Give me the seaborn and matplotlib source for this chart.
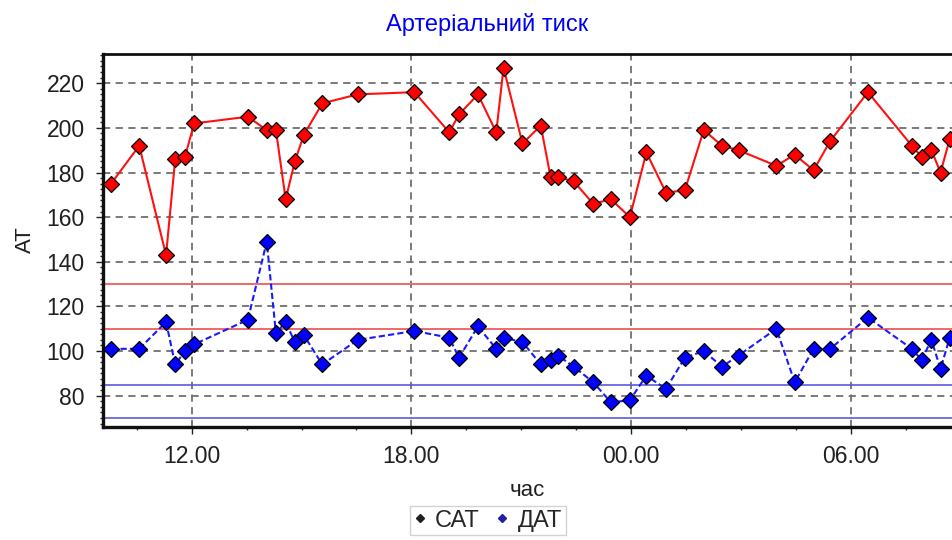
import matplotlib
matplotlib.use("Agg")
import matplotlib.pyplot as plt
from matplotlib.lines import Line2D
from matplotlib.ticker import MultipleLocator, FuncFormatter
import pandas as pd
import seaborn as sns

# measurement times (day rolls over after midnight)
times = ["09:48", "10:34", "11:18", "11:33", "11:49", "12:04", "13:32", "14:03",
         "14:18", "14:34", "14:49", "15:04", "15:34", "16:32", "18:05", "19:02",
         "19:18", "19:49", "20:19", "20:31", "21:02", "21:32", "21:48", "22:00",
         "22:26", "22:58", "23:27", "23:58", "00:25", "00:57", "01:28", "01:59",
         "02:29", "02:56", "03:58", "04:28", "04:59", "05:26", "06:28", "07:40",
         "07:56", "08:12", "08:27", "08:42"]

# systolic pressure (САТ)
sat = [175, 192, 143, 186, 187, 202, 205, 199, 199, 168, 185, 197, 211, 215,
       216, 198, 206, 215, 198, 227, 193, 201, 178, 178, 176, 166, 168, 160,
       189, 171, 172, 199, 192, 190, 183, 188, 181, 194, 216, 192, 187, 190,
       180, 195]

# diastolic pressure (ДАТ)
dat = [101, 101, 113, 94, 100, 103, 114, 149, 108, 113, 104, 107, 94, 105,
       109, 106, 97, 111, 101, 106, 104, 94, 96, 98, 93, 86, 77, 78,
       89, 83, 97, 100, 93, 98, 110, 86, 101, 101, 115, 101, 96, 105,
       92, 106]

# reference levels
sat_limits = [130, 110]
dat_limits = [85, 70]


def to_hours(labels):
    hours = []
    day = 0
    prev = -1
    for t in labels:
        h, m = t.split(":")
        v = int(h) + int(m) / 60
        if v < prev:
            day += 24
        prev = v
        hours.append(v + day)
    return hours


hours = to_hours(times)
df = pd.DataFrame({"час": hours, "САТ": sat, "ДАТ": dat})

sns.set_style("white")
plt.rcParams["font.family"] = ["Liberation Sans", "DejaVu Sans"]

fig = plt.figure(figsize=(9.52, 5.4), dpi=100)
ax = fig.add_axes([102.7 / 952, 113.3 / 540, (979 - 102.7) / 952, (426.7 - 54) / 540])

ax.grid(True, which="major", color="#707070", linestyle=(0, (4, 3)), linewidth=1.3)
ax.set_axisbelow(True)

for v in sat_limits:
    ax.axhline(v, color="#f06868", linewidth=1.4, zorder=1.5)
for v in dat_limits:
    ax.axhline(v, color="#5a5ae0", linewidth=1.2, zorder=1.5)

sns.lineplot(data=df, x="час", y="САТ", ax=ax, color="#ff1010", linewidth=1.5,
             marker="D", markersize=8.5, markerfacecolor="#ff0000",
             markeredgecolor="black", markeredgewidth=0.9, zorder=3)
sns.lineplot(data=df, x="час", y="ДАТ", ax=ax, color="#1a1aff", linewidth=1.5,
             linestyle=(0, (3, 1.5)), marker="D", markersize=8.5,
             markerfacecolor="#0000ff", markeredgecolor="black",
             markeredgewidth=0.9, zorder=3)

ax.set_xlim(9.57, 33.5)
ax.set_ylim(66.1, 233.1)
ax.xaxis.set_major_locator(MultipleLocator(6))
ax.xaxis.set_minor_locator(MultipleLocator(1.5))
ax.xaxis.set_major_formatter(FuncFormatter(lambda v, p: f"{int(round(v)) % 24:02d}.00"))
ax.yaxis.set_major_locator(MultipleLocator(20))
ax.yaxis.set_minor_locator(MultipleLocator(2.5))

ax.tick_params(axis="both", which="major", direction="out", length=5, width=1,
               labelsize=16.5, pad=8, colors="#202020")
ax.tick_params(axis="both", which="minor", direction="out", length=2.5, width=1,
               bottom=True, left=True)
ax.tick_params(axis="both", which="major", bottom=True, left=True)

for side in ["left", "bottom"]:
    ax.spines[side].set_linewidth(2.4)
    ax.spines[side].set_color("#101010")
ax.spines["top"].set_linewidth(2)
ax.spines["top"].set_color("#101010")
ax.spines["right"].set_visible(False)

ax.set_xlabel("")
ax.set_ylabel("")
fig.text(487 / 952, 1 - 25 / 540, "Артеріальний тиск", color="#0000ee",
         fontsize=17, ha="center", va="center")
fig.text(25 / 952, 1 - 240 / 540, "АТ", rotation=90, fontsize=16,
         ha="center", va="center", color="#202020")
fig.text(527 / 952, 1 - 490 / 540, "час", fontsize=16, ha="center",
         va="center", color="#202020")

handles = [
    Line2D([], [], linestyle="none", marker="D", markersize=4, color="#202020"),
    Line2D([], [], linestyle="none", marker="D", markersize=4, color="#2020a0"),
]
leg = fig.legend(handles, ["САТ", "ДАТ"], loc="upper center",
                 bbox_to_anchor=(488 / 952, 1 - 506 / 540), ncol=2,
                 fontsize=17, frameon=True, fancybox=False, edgecolor="#c8c8c8",
                 handlelength=0.5, handletextpad=0.4, columnspacing=0.7,
                 borderpad=0.15, borderaxespad=0)

fig.savefig("out.png", dpi=100)
